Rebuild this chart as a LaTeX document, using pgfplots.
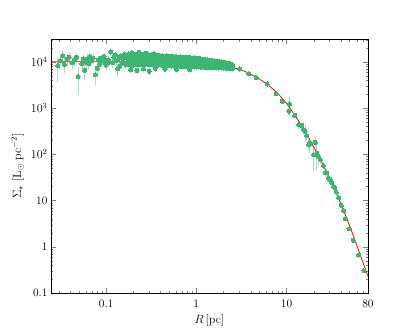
\documentclass[border=0pt]{standalone}
\usepackage{pgfplots}
\pgfplotsset{compat=1.18}
\usepackage{pgfplotstable}
\definecolor{mygreen}{RGB}{62,182,115}

% dense band of inner points: R, Sigma, error
\pgfplotstableread[row sep=\\]{
R S e \\
0.178 14800 1900 \\ 0.178 12000 1600 \\ 0.178 10100 1400 \\ 0.178 8600 1200 \\
0.188 13600 1900 \\ 0.188 12500 1600 \\ 0.188 10600 1400 \\ 0.188 9000 1200 \\
0.200 14500 1900 \\ 0.200 11800 1600 \\ 0.200 10200 1400 \\ 0.200 8400 1200 \\
0.211 14000 1900 \\ 0.211 12300 1600 \\ 0.211 10500 1400 \\ 0.211 8900 1200 \\
0.224 15000 1900 \\ 0.224 12100 1600 \\ 0.224 9900 1400 \\ 0.224 8700 1200 \\
0.237 13900 1900 \\ 0.237 12600 1600 \\ 0.237 10400 1400 \\ 0.237 9100 1200 \\
0.251 14400 1900 \\ 0.251 11900 1600 \\ 0.251 10300 1400 \\ 0.251 8500 1200 \\
0.266 14100 1900 \\ 0.266 12400 1600 \\ 0.266 10700 1400 \\ 0.266 8800 1200 \\
0.282 14700 1900 \\ 0.282 12000 1600 \\ 0.282 10000 1400 \\ 0.282 9000 1200 \\
0.299 13800 1900 \\ 0.299 12200 1600 \\ 0.299 10500 1400 \\ 0.299 8600 1200 \\
0.316 14200 1900 \\ 0.316 12500 1600 \\ 0.316 10200 1400 \\ 0.316 8800 1200 \\
0.335 13700 1900 \\ 0.335 11800 1600 \\ 0.335 10100 1400 \\ 0.335 8500 1200 \\
0.355 13400 1900 \\ 0.355 12000 1600 \\ 0.355 9900 1400 \\ 0.355 8700 1200 \\
0.376 13900 1900 \\ 0.376 11600 1600 \\ 0.376 10200 1400 \\ 0.376 8400 1200 \\
0.398 13200 1900 \\ 0.398 11900 1600 \\ 0.398 9800 1400 \\ 0.398 8600 1200 \\
0.422 13500 1900 \\ 0.422 11500 1600 \\ 0.422 10000 1400 \\ 0.422 8300 1200 \\
0.447 13100 1900 \\ 0.447 11700 1600 \\ 0.447 9700 1400 \\ 0.447 8500 1200 \\
0.473 13300 1900 \\ 0.473 11400 1600 \\ 0.473 9900 1400 \\ 0.473 8200 1200 \\
0.501 12900 1600 \\ 0.501 11500 1600 \\ 0.501 9600 1400 \\ 0.501 8400 1200 \\
0.531 13200 1900 \\ 0.531 11200 1600 \\ 0.531 9800 1400 \\ 0.531 8100 1200 \\
0.562 12800 1600 \\ 0.562 11300 1600 \\ 0.562 9500 1400 \\ 0.562 8300 1200 \\
0.596 13000 1900 \\ 0.596 11000 1600 \\ 0.596 9700 1400 \\ 0.596 8000 1200 \\
0.631 12600 1600 \\ 0.631 11100 1600 \\ 0.631 9400 1200 \\ 0.631 8200 1200 \\
0.668 12800 1600 \\ 0.668 10900 1400 \\ 0.668 9300 1200 \\ 0.668 7900 1100 \\
0.708 12400 1600 \\ 0.708 11000 1600 \\ 0.708 9500 1400 \\ 0.708 8100 1200 \\
0.750 12600 1600 \\ 0.750 10700 1400 \\ 0.750 9200 1200 \\ 0.750 7800 1100 \\
0.794 12200 1600 \\ 0.794 10800 1400 \\ 0.794 9300 1200 \\ 0.794 8000 1200 \\
0.841 12400 1600 \\ 0.841 10600 1400 \\ 0.841 9100 1200 \\ 0.841 7700 1100 \\
0.891 12000 1600 \\ 0.891 10700 1400 \\ 0.891 9200 1200 \\ 0.891 7900 1100 \\
0.944 12200 1600 \\ 0.944 10500 1400 \\ 0.944 9000 1200 \\ 0.944 7800 1100 \\
1.000 11900 1600 \\ 1.000 10600 1400 \\ 1.000 9100 1200 \\ 1.000 7700 1100 \\
1.059 11800 1600 \\ 1.059 10400 1400 \\ 1.059 9000 1200 \\ 1.059 7800 1100 \\
1.122 11500 1600 \\ 1.122 10300 1400 \\ 1.122 8900 1200 \\ 1.122 7600 1100 \\
1.189 11300 1600 \\ 1.189 10100 1400 \\ 1.189 8800 1200 \\ 1.189 7700 1100 \\
1.259 11100 1600 \\ 1.259 10000 1400 \\ 1.259 8700 1200 \\ 1.259 7600 1100 \\
1.334 11000 1600 \\ 1.334 9800 1400 \\ 1.334 8700 1200 \\ 1.334 7500 1100 \\
1.413 10800 1400 \\ 1.413 9700 1400 \\ 1.413 8600 1200 \\ 1.413 7700 1100 \\
1.496 10600 1400 \\ 1.496 9600 1400 \\ 1.496 8500 1200 \\ 1.496 7500 1100 \\
1.585 10400 1400 \\ 1.585 9400 1200 \\ 1.585 8400 1200 \\ 1.585 7600 1100 \\
1.679 10200 1400 \\ 1.679 9300 1200 \\ 1.679 8300 1200 \\ 1.679 7400 1100 \\
1.778 10100 1400 \\ 1.778 9200 1200 \\ 1.778 8300 1200 \\ 1.778 7500 1100 \\
1.884 9900 1400 \\ 1.884 9000 1200 \\ 1.884 8200 1200 \\ 1.884 7400 1100 \\
1.995 9800 1400 \\ 1.995 8900 1200 \\ 1.995 8100 1200 \\ 1.995 7300 1100 \\
2.113 9600 1400 \\ 2.113 8700 1200 \\ 2.113 8000 1200 \\ 2.113 7300 1100 \\
2.239 9300 1200 \\ 2.239 8500 1200 \\ 2.239 7900 1100 \\ 2.239 7200 1100 \\
2.371 9000 1200 \\ 2.371 8400 1200 \\ 2.371 7800 1100 \\ 2.371 7200 1100 \\
2.512 8700 1200 \\ 2.512 8200 1200 \\ 2.512 7600 1100 \\ 2.512 7100 1100 \\
}\band

% scattered inner points
\pgfplotstableread{
R S e
0.0291 8300 4600
0.0310 10500 2500
0.0330 13500 4000
0.0345 8800 3000
0.0370 11500 3500
0.0390 12600 3500
0.0420 9500 2500
0.0450 11000 3000
0.0470 12500 3000
0.0490 4800 2800
0.0540 9000 3000
0.0560 11500 2500
0.0580 6500 2500
0.0600 9800 2000
0.0620 11500 3000
0.0640 9000 2500
0.0660 13000 3500
0.0680 10500 2000
0.0720 12000 3000
0.0760 5200 2000
0.0800 7200 2500
0.0820 11000 2500
0.0850 8900 2000
0.0880 12000 2500
0.0920 10500 2000
0.0950 13000 2500
0.0980 9600 2000
0.1000 8500 2000
0.1050 11000 2000
0.1090 9800 1500
0.1130 16500 3000
0.1180 9500 2000
0.1220 12500 2000
0.1260 14000 2500
0.1300 10500 1800
0.1350 7000 2000
0.1400 12000 2000
0.1420 8000 1800
0.1450 13500 2000
0.1500 9500 1500
0.1550 11500 2000
0.1600 14500 2200
0.1650 8500 1500
0.1700 12800 2000
0.1750 10200 1500
0.1880 6800 1500
0.1920 15500 2000
0.2200 6500 1200
0.2300 16000 2200
0.2600 7000 1200
0.2800 15200 2000
0.3000 6200 1000
0.3400 14800 2000
0.3500 7200 1200
0.4500 6900 1000
0.6000 6800 1000
0.8500 6700 1000
}\inner

% outer points
\pgfplotstableread{
R S e
3.03 6950 400
3.81 5500 350
4.60 4570 300
6.10 3300 250
7.70 2030 150
9.00 1390 120
10.8 1220 560
10.6 850 150
12.3 690 80
13.6 435 100
14.8 420 60
15.5 340 60
16.1 315 120
16.8 252 50
17.6 162 40
17.9 165 60
18.3 176 30
20.0 98 55
20.8 180 40
21.7 105 60
22.6 90 30
23.7 77 15
25.7 57 10
26.8 40 8
28.0 39.7 6
29.2 31 5
30.0 29 4
31.0 26 4
31.8 24 4
33.4 20 3
34.4 19 3
35.7 15.2 2
37.9 11.5 1.5
40.5 7.9 1
43.0 6.0 0.8
44.9 4.07 0.5
49.3 2.44 0.3
55.0 1.38 0.2
62.9 0.66 0.08
72.1 0.305 0.04
}\outer

% fitted profile
\pgfplotstableread{
R S
0.0245 10000
0.1 9990
0.316 9950
1.0 9660
1.122 9570
1.259 9440
1.585 9020
1.778 8730
1.995 8410
2.239 8000
2.512 7590
2.818 7100
3.162 6610
3.548 6030
3.981 5430
4.467 4820
5.012 4220
5.623 3630
6.310 3090
7.079 2560
7.943 2090
8.913 1640
10.0 1259
11.22 916
12.59 661
14.13 466
15.85 324
17.78 218
19.95 144.5
22.39 94.8
25.12 61.7
28.18 38.7
31.62 24.0
35.48 14.6
39.81 8.71
44.67 4.98
50.12 2.82
56.23 1.55
63.10 0.832
70.79 0.442
80.0 0.229
}\fit

\begin{document}
\begin{tikzpicture}
\begin{axis}[
    at={(0,0)}, anchor=south west, scale only axis,
    width=317pt, height=254pt,
    xmode=log, ymode=log,
    xmin=0.0245, xmax=80, ymin=0.1, ymax=3.1e4,
    xtick={0.1,1,10,80}, xticklabels={0.1,1,10,80},
    ytick={0.1,1,10,100,1000,10000},
    yticklabels={0.1,1,10,$10^2$,$10^3$,$10^4$},
    minor xtick={0.03,0.04,0.05,0.06,0.07,0.08,0.09,0.2,0.3,0.4,0.5,0.6,0.7,0.8,0.9,2,3,4,5,6,7,8,9,20,30,40,50,60,70},
    minor ytick={0.2,0.3,0.4,0.5,0.6,0.7,0.8,0.9,2,3,4,5,6,7,8,9,20,30,40,50,60,70,80,90,200,300,400,500,600,700,800,900,2000,3000,4000,5000,6000,7000,8000,9000,20000,30000},
    tick align=inside, major tick length=5pt, minor tick length=2.5pt,
    axis line style={line width=0.9pt},
    tick label style={font=\fontsize{11.5pt}{14pt}\selectfont},
    label style={font=\fontsize{11.5pt}{14pt}\selectfont},
    xticklabel style={yshift=-3pt},
    xlabel={$R\,[\mathrm{pc}]$},
    ylabel={$\Sigma_\star\ [\mathrm{L}_\odot\ \mathrm{pc}^{-2}]$},
    error bars/error bar style={draw=mygreen, opacity=0.45, line width=0.9pt},
]
% error bars first, behind the markers
\addplot[draw=none, mark=none, forget plot,
    error bars/.cd, y dir=both, y explicit, error mark=none]
    table[x=R, y=S, y error=e] {\band};
\addplot[draw=none, mark=none, forget plot,
    error bars/.cd, y dir=both, y explicit, error mark=none]
    table[x=R, y=S, y error=e] {\inner};
\addplot[draw=none, mark=none, forget plot,
    error bars/.cd, y dir=both, y explicit, error mark=none]
    table[x=R, y=S, y error=e] {\outer};
% markers
\addplot[only marks, mark=*, mark size=2.05pt, color=mygreen,
    mark options={solid, fill=mygreen, draw=mygreen, line width=0pt}]
    table[x=R, y=S] {\band};
\addplot[only marks, mark=*, mark size=2.05pt, color=mygreen,
    mark options={solid, fill=mygreen, draw=mygreen, line width=0pt}]
    table[x=R, y=S] {\inner};
\addplot[only marks, mark=*, mark size=2.05pt, color=mygreen,
    mark options={solid, fill=mygreen, draw=mygreen, line width=0pt}]
    table[x=R, y=S] {\outer};
% profile
\addplot[red, line width=0.8pt, mark=none] table[x=R, y=S] {\fit};
\end{axis}
\path (-51pt,-37pt) rectangle (358pt,293pt);
\end{tikzpicture}
\end{document}
